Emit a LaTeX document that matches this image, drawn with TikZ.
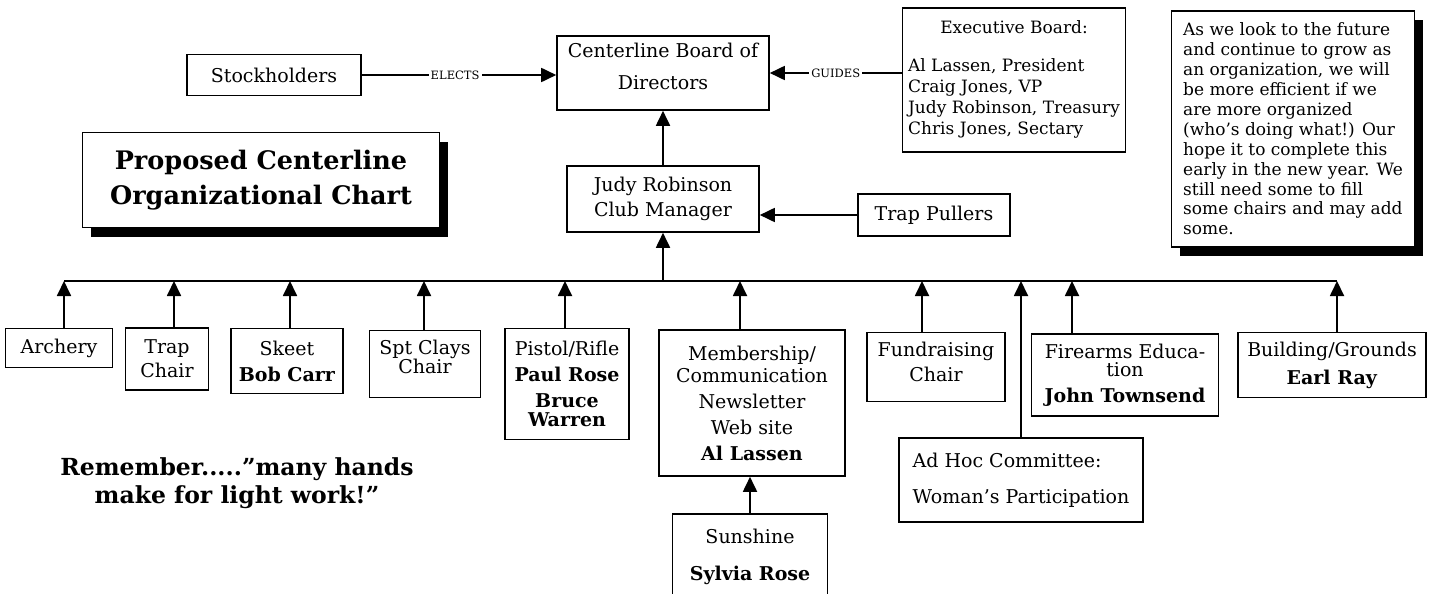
\documentclass[tikz,border=0pt]{standalone}
\usepackage{fontspec}
\setmainfont{DejaVu Serif}
\usetikzlibrary{arrows.meta,shadows}
\begin{document}
\begin{tikzpicture}[x=1pt,y=-1pt,
  box/.style={draw,line width=1.6pt,fill=white,align=center,inner sep=2pt,font=\fontsize{19}{26}\selectfont},
  arr/.style={line width=1.8pt,-{Triangle[length=15pt,width=14pt]}},
  lbl/.style={fill=white,inner sep=2pt,font=\fontsize{11.5}{12}\selectfont},
  shade/.style={drop shadow={shadow xshift=8pt,shadow yshift=-9pt,fill=black,opacity=1}}]
\useasboundingbox (0,0) rectangle (1443,594);
% top row
\node[box,minimum width=174pt,minimum height=41pt] (stock) at (274,75) {Stockholders};
\node[box,minimum width=212pt,minimum height=74pt] (board) at (663,73) {Centerline Board of\\[6pt]Directors\\[-12pt]\mbox{}};
\node[box,minimum width=223pt,minimum height=144pt,font=\fontsize{17}{21}\selectfont] (exec) at (1014,80)
  {\begin{tabular}{@{}l@{}}\multicolumn{1}{c}{Executive Board:}\\[17pt]
   Al Lassen, President\\Craig Jones, VP\\Judy Robinson, Treasury\\Chris Jones, Sectary\end{tabular}};
\node[box,shade,align=left,minimum width=243pt,minimum height=236pt,font=\fontsize{17}{19.9}\selectfont] (note) at (1293,129)
  {As we look to the future\\and continue to grow as\\an organization, we will\\be more efficient if we\\are more organized\\(who’s doing what!) Our\\hope it to complete this\\early in the new year. We\\still need some to fill\\some chairs and may add\\some.};
\node[box,shade,minimum width=357pt,minimum height=95pt,font=\bfseries\fontsize{25.5}{35}\selectfont] (title) at (261,180)
  {Proposed Centerline\\Organizational Chart};
\node[box,minimum width=192pt,minimum height=66pt] (judy) at (663,199) {Judy Robinson\\[-1pt]Club Manager};
\node[box,minimum width=152pt,minimum height=42pt] (pullers) at (934,215) {Trap Pullers};
\draw[arr] (stock.east) -- node[lbl,pos=0.48]{ELECTS} (board.west |- stock.east);
\draw[arr] (exec.west |- board.east) -- node[lbl]{GUIDES} (board.east);
\draw[arr] (judy.north) -- (board.south);
\draw[arr] (pullers.west) -- (judy.east |- pullers.west);
% chairs
\node[box,minimum width=107pt,minimum height=39pt] (archery) at (59,348) {Archery};
\node[box,minimum width=83pt,minimum height=62pt] (trap) at (167,359) {Trap\\[-2pt]Chair};
\node[box,minimum width=112pt,minimum height=65pt] (skeet) at (287,361) {Skeet\\\textbf{Bob Carr}};
\node[box,minimum width=111pt,minimum height=67pt] (clays) at (425,364) {Spt Clays\\[-7pt]Chair\\[-12pt]\mbox{}};
\node[box,minimum width=124pt,minimum height=111pt] (pistol) at (567,384) {Pistol/Rifle\\\textbf{Paul Rose}\\\textbf{Bruce}\\[-7pt]\textbf{Warren}};
\node[box,minimum width=186pt,minimum height=146pt] (member) at (752,403) {Membership/\\[-4pt]Communication\\Newsletter\\Web site\\\textbf{Al Lassen}};
\node[box,minimum width=138pt,minimum height=69pt] (fund) at (936,367) {Fundraising\\[-1pt]Chair\\[-16pt]\mbox{}};
\node[box,minimum width=187pt,minimum height=82pt] (firearms) at (1125,375) {Firearms Educa-\\[-8pt]tion\\\textbf{John Townsend}};
\node[box,minimum width=188pt,minimum height=65pt] (building) at (1332,365) {Building/Grounds\\[2pt]\textbf{Earl Ray}};
\node[box,align=left,minimum width=244pt,minimum height=84pt] (adhoc) at (1021,480) {Ad Hoc Committee:\\[10pt]Woman’s Participation};
\node[box,minimum width=155pt,minimum height=86pt] (sunshine) at (750,557) {Sunshine\\[11pt]\textbf{Sylvia Rose}};
\node[font=\bfseries\fontsize{23.5}{28}\selectfont,align=center] (remember) at (237,483) {Remember.....”many hands\\make for light work!”};
% bus
\coordinate (b1) at (64,281);
\coordinate (b2) at (174,281);
\coordinate (b3) at (290,281);
\coordinate (b4) at (424,281);
\coordinate (b5) at (565,281);
\coordinate (hub) at (663,281);
\coordinate (b6) at (740,281);
\coordinate (b7) at (922,281);
\coordinate (b8) at (1072,281);
\coordinate (b9) at (1337,281);
\draw[line width=2pt] (b1) -- (b9);
\draw[arr] (hub) -- (judy.south);
\draw[arr] (archery.north -| b1) -- (b1);
\draw[arr] (trap.north -| b2) -- (b2);
\draw[arr] (skeet.north -| b3) -- (b3);
\draw[arr] (clays.north -| b4) -- (b4);
\draw[arr] (pistol.north -| b5) -- (b5);
\draw[arr] (member.north -| b6) -- (b6);
\draw[arr] (fund.north -| b7) -- (b7);
\draw[arr] (adhoc.north) -- (adhoc.north |- b1);
\draw[arr] (firearms.north -| b8) -- (b8);
\draw[arr] (building.north -| b9) -- (b9);
\draw[arr] (sunshine.north) -- (member.south -| sunshine.north);
\end{tikzpicture}
\end{document}
